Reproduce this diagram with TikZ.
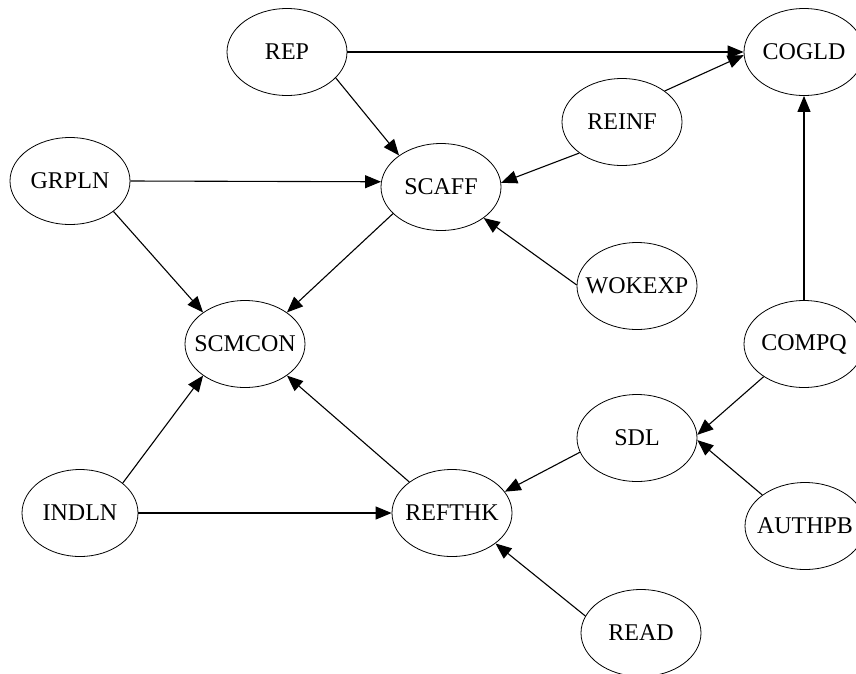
\documentclass[tikz,border=0pt]{standalone}
\usepackage{fontspec}
\setmainfont{Liberation Serif}
\usetikzlibrary{arrows.meta,shapes.geometric}
% keep the label from widening the fixed-size ellipse
\newcommand{\ellipsetext}[1]{\makebox[0pt]{#1}}
\begin{document}
\begin{tikzpicture}[x=1pt,y=-1pt,
  concept/.style={draw, ellipse, line width=0.8pt, inner sep=0pt,
    minimum width=120pt, minimum height=87pt,
    font=\fontsize{24}{28}\selectfont},
  link/.style={line width=1.1pt, -{Triangle[length=16pt,width=13pt]}}]
\useasboundingbox (0,0) rectangle (856,673);
\clip (0,0) rectangle (856,673);

% concepts
\node[concept] (REP)    at (287,52)  {\ellipsetext{REP}};
\node[concept] (COGLD)  at (804,52)  {\ellipsetext{COGLD}};
\node[concept] (REINF)  at (622,122) {\ellipsetext{REINF}};
\node[concept] (GRPLN)  at (70,181)  {\ellipsetext{GRPLN}};
\node[concept] (SCAFF)  at (441,187) {\ellipsetext{SCAFF}};
\node[concept] (WOKEXP) at (637,286) {\ellipsetext{WOKEXP}};
\node[concept] (SCMCON) at (245,344) {\ellipsetext{SCMCON}};
\node[concept] (COMPQ)  at (804,344) {\ellipsetext{COMPQ}};
\node[concept] (SDL)    at (637,438) {\ellipsetext{SDL}};
\node[concept, minimum width=116pt] (INDLN) at (80,513) {\ellipsetext{INDLN}};
\node[concept] (REFTHK) at (452,513) {\ellipsetext{REFTHK}};
\node[concept] (AUTHPB) at (805,526) {\ellipsetext{AUTHPB}};
\node[concept] (READ)   at (641,633) {\ellipsetext{READ}};

% influences
\draw[link] (REP.east)  -- (COGLD.west);
\draw[link] (REP.-28)   -- (SCAFF.143);
\draw[link] (REINF.36)  -- (COGLD.183);
\draw[link] (REINF.216) -- (SCAFF.4);
\draw[link] (GRPLN.east) -- (SCAFF.175);
\draw[link] (GRPLN.-35) -- (SCMCON.143);
\draw[link] (SCAFF.209) -- (SCMCON.37);
\draw[link] (WOKEXP.179) -- (SCAFF.-36);
\draw[link] (COMPQ.north) -- (COGLD.south);
\draw[link] (COMPQ.219) -- (SDL.3);
\draw[link] (AUTHPB.144) -- (SDL.-2);
\draw[link] (SDL.194)   -- (REFTHK.22);
\draw[link] (INDLN.east) -- (REFTHK.west);
\draw[link] (INDLN.35)  -- (SCMCON.217);
\draw[link] (REFTHK.144) -- (SCMCON.-37);
\draw[link] (READ.163)  -- (REFTHK.-35);
\end{tikzpicture}
\end{document}
